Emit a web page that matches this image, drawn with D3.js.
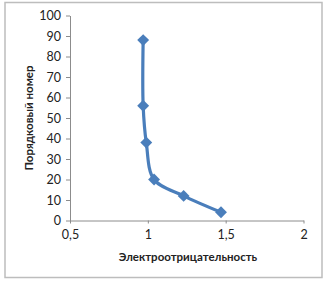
<!DOCTYPE html>
<html>
<head>
<meta charset="utf-8">
<script src="https://cdn.jsdelivr.net/npm/d3@7"></script>
<style>
body { margin: 0; background: #fff; }
text { font-family: Lato, "Open Sans", sans-serif; fill: #222; }
</style>
</head>
<body>
<script>
// group 2 elements: electronegativity vs atomic number
const electroneg = [1.47, 1.23, 1.04, 0.99, 0.97, 0.97]
const atomicNum = [4, 12, 20, 38, 56, 88]
const xTicks = [0.5, 1, 1.5, 2]
const yTicks = [0, 10, 20, 30, 40, 50, 60, 70, 80, 90, 100]
const xTitle = "Электроотрицательность"
const yTitle = "Порядковый номер"

const width = 327
const height = 284

const svg = d3.select("body").append("svg")
    .attr("width", width)
    .attr("height", height)

// chart frame
svg.append("rect")
    .attr("x", 5).attr("y", 2.5)
    .attr("width", 317).attr("height", 275)
    .attr("fill", "none")
    .attr("stroke", "#bdbdbd")
    .attr("stroke-width", 1.5)

const x = d3.scaleLinear().domain([0.5, 2]).range([70, 303.5])
const y = d3.scaleLinear().domain([0, 100]).range([220.5, 15.5])

const fmt = d => String(d).replace(".", ",")

const xAxis = svg.append("g")
    .attr("transform", `translate(0,${y(0)})`)
    .call(d3.axisBottom(x).tickValues(xTicks).tickFormat(fmt).tickSize(3).tickSizeOuter(0).tickPadding(7))
const yAxis = svg.append("g")
    .attr("transform", `translate(${x(0.5)},0)`)
    .call(d3.axisLeft(y).tickValues(yTicks).tickSize(4).tickSizeOuter(0).tickPadding(5))

for (const ax of [xAxis, yAxis]) {
    ax.select(".domain").attr("stroke", "#8c8c8c")
    ax.selectAll(".tick line").attr("stroke", "#8c8c8c")
    ax.selectAll("text").style("font-size", "12.5px").attr("fill", "#1a1a1a")
}

svg.append("text")
    .attr("x", 188).attr("y", 261)
    .attr("text-anchor", "middle")
    .style("font-size", "11.5px").style("font-weight", "bold")
    .text(xTitle)

svg.append("text")
    .attr("transform", `translate(33,118) rotate(-90)`)
    .attr("text-anchor", "middle")
    .style("font-size", "11.5px").style("font-weight", "bold")
    .text(yTitle)

const points = atomicNum.map((n, i) => [electroneg[i], n])

const line = d3.line()
    .x(d => x(d[0]))
    .y(d => y(d[1]))
    .curve(d3.curveCatmullRom.alpha(0.5))

svg.append("path")
    .attr("d", line(points))
    .attr("fill", "none")
    .attr("stroke", "#4a7ebb")
    .attr("stroke-width", 3.2)

svg.selectAll(".pt")
    .data(points)
    .enter()
    .append("path")
    .attr("class", "pt")
    .attr("transform", d => `translate(${x(d[0])},${y(d[1])})`)
    .attr("d", d3.symbol(d3.symbolDiamond2, 90)())
    .attr("fill", "#4a7ebb")
</script>
</body>
</html>
